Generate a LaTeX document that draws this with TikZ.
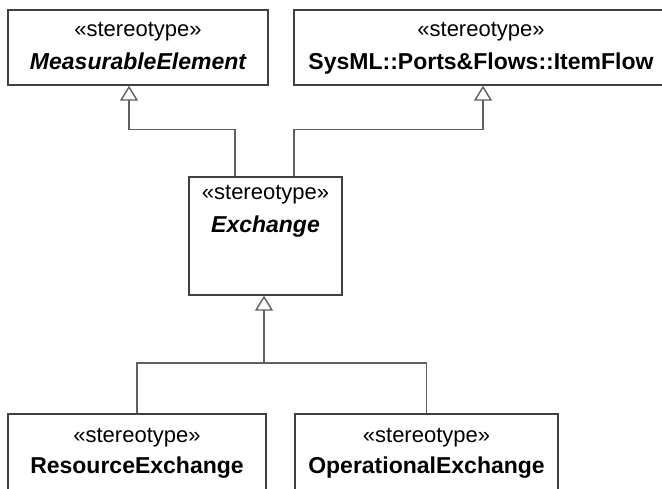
\documentclass[tikz,border=0pt]{standalone}
\usepackage{fontspec}
\setmainfont{Liberation Sans}
\usetikzlibrary{arrows.meta}
\definecolor{boxline}{HTML}{404040}
\definecolor{conn}{HTML}{606060}
\begin{document}
\begin{tikzpicture}[x=1pt,y=-1pt,
  umlbox/.style={draw=boxline, line width=1.4pt, inner sep=0pt, fill=none},
  stereo/.style={anchor=base, inner sep=0pt, font=\fontsize{22}{26}\selectfont, text=black},
  nm/.style={anchor=base, inner sep=0pt, font=\fontsize{23}{27}\selectfont\bfseries, text=black},
  nmi/.style={nm, font=\fontsize{23}{27}\selectfont\bfseries\itshape},
  conline/.style={draw=conn, line width=1.4pt},
  gen/.style={conline, -{Triangle[open, length=15pt, width=18pt, line width=1.4pt]}},
]
\useasboundingbox (0,0) rectangle (662,489);
\clip (0,0) rectangle (662,489);

% boxes
\node[umlbox, minimum width=260pt, minimum height=75pt] (me) at (138,47.5) {};
\node[umlbox, minimum width=374pt, minimum height=75pt] (flow) at (481,47.5) {};
\node[umlbox, minimum width=153pt, minimum height=118pt] (exch) at (265.5,236) {};
\node[umlbox, minimum width=258pt, minimum height=86pt] (re) at (137,457) {};
\node[umlbox, minimum width=263pt, minimum height=86pt] (oe) at (426.5,457) {};

% texts
\node[stereo] (meS) at (138,37) {«stereotype»};
\node[nmi] (meN) at (138,70) {MeasurableElement};
\node[stereo] (flS) at (481,37) {«stereotype»};
\node[nm] (flN) at (481,70) {SysML::Ports\&Flows::ItemFlow};
\node[stereo] (exS) at (265.5,200) {«stereotype»};
\node[nmi] (exN) at (265.5,233) {Exchange};
\node[stereo] (reS) at (137,442) {«stereotype»};
\node[nm] (reN) at (137,473) {ResourceExchange};
\node[stereo] (oeS) at (426.5,442) {«stereotype»};
\node[nm] (oeN) at (426.5,473) {OperationalExchange};

% generalizations
\draw[gen] ([xshift=-30.5pt]exch.north) -- ++(0,-47) -| ([xshift=-9pt]me.south);
\draw[gen] ([xshift=28.5pt]exch.north) -- ++(0,-47) -| ([xshift=2pt]flow.south);
\coordinate (j) at (264,363);
\draw[conline] (re.north) |- (j);
\draw[conline] (oe.north) |- (j);
\draw[gen] (j) -- (exch.south -| j);
\end{tikzpicture}
\end{document}
